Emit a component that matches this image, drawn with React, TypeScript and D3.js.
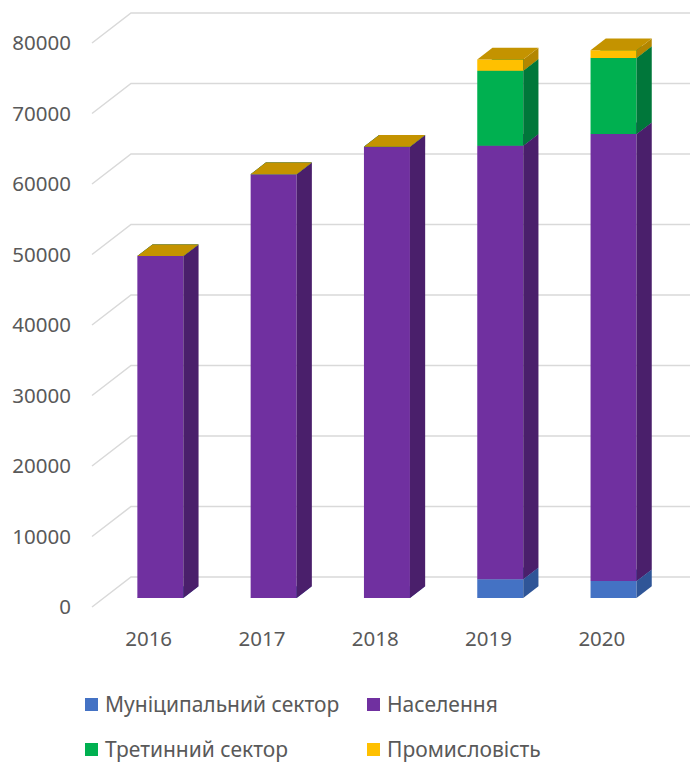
import React from "react";
import * as d3 from "d3";

const years = ["2016", "2017", "2018", "2019", "2020"];
const seriesNames = ["Муніципальний сектор", "Населення", "Третинний сектор", "Промисловість"];
const municipal = [0, 0, 0, 2650, 2400];
const population = [48500, 60100, 64000, 61500, 63400];
const tertiary = [0, 0, 0, 10650, 10800];
const industry = [0, 0, 0, 1600, 1100];
const yTicks = [0, 10000, 20000, 30000, 40000, 50000, 60000, 70000, 80000];

const frontColors = ["#4472C4", "#7030A0", "#00B050", "#FFC000"];
const sideColors = ["#2F5597", "#4A1F6B", "#00773A", "#B38600"];
const topColors = ["#3A64AE", "#5C2787", "#009646", "#C49300"];

const W = 690;
const H = 762;
const DX = 39;
const DY = -30;
const Z0 = 0.3;
const Z1 = 0.69;

export default function App() {
  const y = d3.scaleLinear().domain([0, 80000]).range([607, 43]);
  const x = d3.scaleBand().domain(years).range([92, 658.5]).paddingInner(0).paddingOuter(0);
  const barW = x.bandwidth() * 0.406;
  const P = (px: number, v: number, z: number) => [px + DX * z, y(v) + DY * z];
  const poly = (pts: number[][]) => pts.map((p) => p.join(",")).join(" ");
  const data = [municipal, population, tertiary, industry];
  const stack = d3.stack<number>().keys([0, 1, 2, 3] as any).value((i: number, k: any) => data[k][i]);
  const stacked = stack(years.map((_, i) => i) as any);

  const bars: React.ReactNode[] = [];
  years.forEach((yr, i) => {
    const cx = (x(yr) as number) + x.bandwidth() / 2;
    const xl = cx - barW / 2;
    const xr = cx + barW / 2;
    stacked.forEach((layer, s) => {
      const v0 = layer[i][0];
      const v1 = layer[i][1];
      const front = [P(xl, v0, Z0), P(xr, v0, Z0), P(xr, v1, Z0), P(xl, v1, Z0)];
      const side = [P(xr, v0, Z0), P(xr, v0, Z1), P(xr, v1, Z1), P(xr, v1, Z0)];
      const top = [P(xl, v1, Z0), P(xr, v1, Z0), P(xr, v1, Z1), P(xl, v1, Z1)];
      bars.push(
        <g key={`${yr}-${s}`}>
          {v1 > v0 && <polygon points={poly(front)} fill={frontColors[s]} />}
          {v1 > v0 && <polygon points={poly(side)} fill={sideColors[s]} />}
          <polygon points={poly(top)} fill={topColors[s]} />
        </g>
      );
    });
  });

  const legendItems = [
    { name: seriesNames[0], color: frontColors[0], x: 85, y: 698 },
    { name: seriesNames[1], color: frontColors[1], x: 367, y: 698 },
    { name: seriesNames[2], color: frontColors[2], x: 85, y: 743 },
    { name: seriesNames[3], color: frontColors[3], x: 367, y: 743 },
  ];

  return (
    <svg
      width={W}
      height={H}
      style={{ position: "absolute", left: 0, top: 0, background: "#fff" }}
      fontFamily="'Noto Sans', 'Open Sans', sans-serif"
    >
      <rect width={W} height={H} fill="#fff" />
      {yTicks.map((t) => {
        const yy = y(t);
        return (
          <g key={t}>
            <polyline
              points={`92,${yy} ${92 + DX},${yy + DY} ${W},${yy + DY}`}
              fill="none"
              stroke="#d9d9d9"
              strokeWidth={1.5}
            />
            <text x={71} y={yy} dy="0.36em" textAnchor="end" fontSize={20.5} fill="#595959">
              {t}
            </text>
          </g>
        );
      })}
      {bars}
      {years.map((yr) => (
        <text
          key={yr}
          x={(x(yr) as number) + x.bandwidth() / 2}
          y={646}
          textAnchor="middle"
          fontSize={20.5}
          fill="#595959"
        >
          {yr}
        </text>
      ))}
      {legendItems.map((it) => (
        <g key={it.name}>
          <rect x={it.x} y={it.y} width={13} height={13} fill={it.color} />
          <text x={it.x + 20} y={it.y + 6.5} dy="0.36em" fontSize={21} fill="#595959">
            {it.name}
          </text>
        </g>
      ))}
    </svg>
  );
}
